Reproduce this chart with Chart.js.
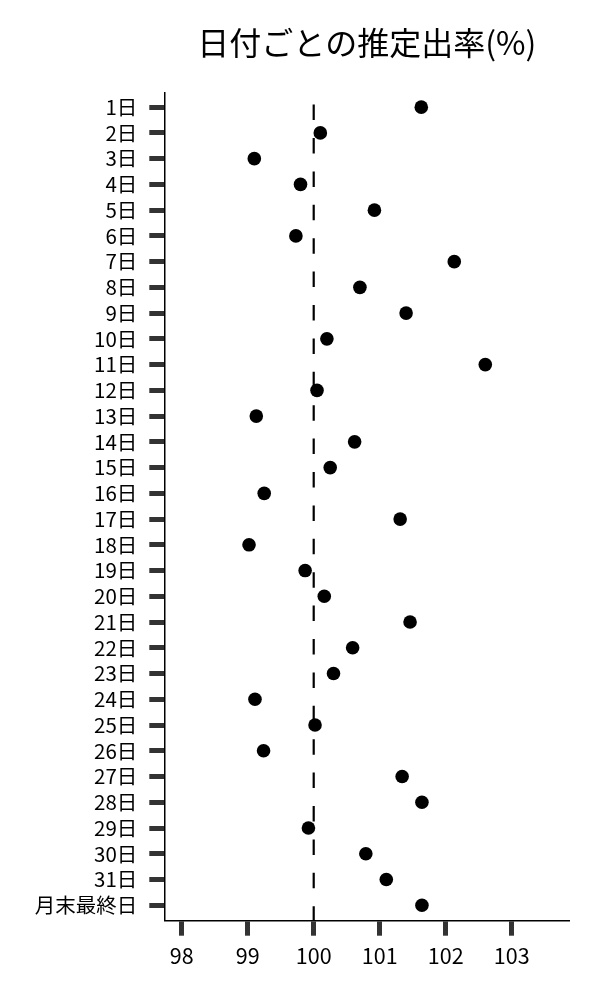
<!DOCTYPE html>
<html>
<head>
<meta charset="utf-8">
<script src="https://cdn.jsdelivr.net/npm/chart.js@4"></script>
<style>
html,body{margin:0;padding:0;background:#fff;}
#wrap{width:600px;height:1000px;}
</style>
</head>
<body>
<div id="wrap"><canvas id="c" width="600" height="1000"></canvas></div>
<script>
const titleText = '日付ごとの推定出率(%)';
const dayLabels = ['1日','2日','3日','4日','5日','6日','7日','8日','9日','10日',
  '11日','12日','13日','14日','15日','16日','17日','18日','19日','20日',
  '21日','22日','23日','24日','25日','26日','27日','28日','29日','30日','31日','月末最終日'];
const rates = [101.63,100.10,99.10,99.80,100.92,99.73,102.13,100.70,101.40,100.20,
  102.60,100.05,99.13,100.62,100.25,99.25,101.31,99.02,99.87,100.16,
  101.46,100.59,100.30,99.11,100.02,99.24,101.34,101.64,99.92,100.79,101.10,101.64];
const xTicks = [98,99,100,101,102,103];
const refValue = 100;

const FONT = '"Noto Sans CJK JP", "Noto Sans", sans-serif';
const points = dayLabels.map((d,i)=>({x: rates[i], y: i}));

new Chart(document.getElementById('c'), {
  type: 'scatter',
  data: {
    datasets: [
      {
        data: points,
        backgroundColor: '#000',
        borderColor: '#000',
        borderWidth: 0,
        pointRadius: 6.8,
        pointHoverRadius: 6.8,
        order: 1
      },
      {
        type: 'line',
        data: [{x: refValue, y: -0.1}, {x: refValue, y: 31.6}],
        borderColor: '#000',
        borderWidth: 2.2,
        borderDash: [15.5, 17.9],
        pointRadius: 0,
        fill: false,
        order: 2
      }
    ]
  },
  options: {
    responsive: false,
    animation: false,
    events: [],
    layout: {padding: {left: 0, right: 30.7, top: 0, bottom: 0}},
    plugins: {
      legend: {display: false},
      tooltip: {enabled: false},
      title: {
        display: true,
        text: titleText,
        fullSize: false,
        align: 'center',
        color: '#000',
        font: {family: FONT, size: 32, weight: 'normal', lineHeight: 1.2},
        padding: {top: 23.8, bottom: 30.8}
      }
    },
    scales: {
      x: {
        type: 'linear',
        min: 97.736,
        max: 103.873,
        afterFit: s => { s.height = 79.3; },
        afterBuildTicks: s => { s.ticks = xTicks.map(v => ({value: v})); },
        ticks: {
          stepSize: 1,
          autoSkip: false,
          color: '#000',
          padding: 7,
          font: {family: FONT, size: 21.5},
          callback: v => String(v)
        },
        border: {display: true, color: '#000', width: 1.5},
        grid: {display: true, drawOnChartArea: false, drawTicks: true, tickLength: 15, tickWidth: 5, tickColor: '#333'}
      },
      y: {
        type: 'linear',
        reverse: true,
        min: -0.55,
        max: 31.6,
        afterFit: s => { s.width = 164.3; },
        afterBuildTicks: s => { s.ticks = dayLabels.map((d, i) => ({value: i})); },
        ticks: {
          stepSize: 1,
          autoSkip: false,
          color: '#000',
          padding: 12,
          font: {family: FONT, size: 20.5},
          callback: v => dayLabels[v]
        },
        border: {display: true, color: '#000', width: 1.5},
        grid: {display: true, drawOnChartArea: false, drawTicks: true, tickLength: 15, tickWidth: 5, tickColor: '#333'}
      }
    }
  }
});
</script>
</body>
</html>
